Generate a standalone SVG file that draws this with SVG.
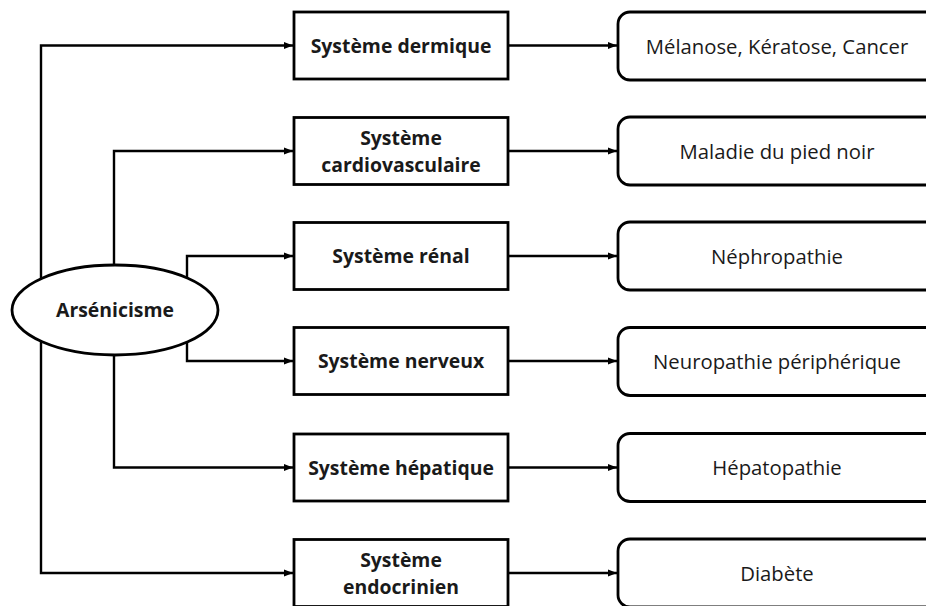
<svg xmlns="http://www.w3.org/2000/svg" width="926" height="606" viewBox="0 0 926 606">
<style>
.box{fill:#fff;stroke:#000;stroke-width:2.8}
.rbox{fill:#fff;stroke:#000;stroke-width:2.8}
.ell{fill:#fff;stroke:#000;stroke-width:2.8}
.conn{fill:none;stroke:#000;stroke-width:2.4}
.b{font-family:"Open Sans","Liberation Sans",sans-serif;font-weight:bold;font-size:19.4px;fill:#1a1a1a;text-anchor:middle}
.r{font-family:"Open Sans","Liberation Sans",sans-serif;font-size:20.3px;fill:#1a1a1a;text-anchor:middle}
</style>
<defs>
<marker id="ah" markerUnits="userSpaceOnUse" markerWidth="10" markerHeight="10" viewBox="0 0 10 10" refX="9" refY="5" orient="auto">
<path d="M0,1.5 L9,5 L0,8.5 Z" fill="#000"/>
</marker>
</defs>
<rect width="926" height="606" fill="#fff"/>
<g id="connectors">
<path class="conn" d="M41,300 V45.5 H293" marker-end="url(#ah)"/>
<path class="conn" d="M41,320 V573 H293" marker-end="url(#ah)"/>
<path class="conn" d="M114,300 V151 H293" marker-end="url(#ah)"/>
<path class="conn" d="M114,320 V467.5 H293" marker-end="url(#ah)"/>
<path class="conn" d="M187,300 V256 H293" marker-end="url(#ah)"/>
<path class="conn" d="M187,320 V361 H293" marker-end="url(#ah)"/>
<path class="conn" d="M508,45.5 H617" marker-end="url(#ah)"/>
<path class="conn" d="M508,151 H617" marker-end="url(#ah)"/>
<path class="conn" d="M508,256 H617" marker-end="url(#ah)"/>
<path class="conn" d="M508,361 H617" marker-end="url(#ah)"/>
<path class="conn" d="M508,467.5 H617" marker-end="url(#ah)"/>
<path class="conn" d="M508,573 H617" marker-end="url(#ah)"/>
</g>
<g id="arsenicisme">
<ellipse class="ell" cx="115" cy="310" rx="103" ry="45"/>
<text class="b" x="115" y="317">Arsénicisme</text>
</g>
<g id="dermique">
<rect class="box" x="294" y="12" width="214" height="67"/>
<text class="b" x="401" y="53">Système dermique</text>
</g>
<g id="cardio">
<rect class="box" x="294" y="117.5" width="214" height="67"/>
<text class="b" x="401" y="145">Système</text>
<text class="b" x="401" y="172">cardiovasculaire</text>
</g>
<g id="renal">
<rect class="box" x="294" y="222.5" width="214" height="67"/>
<text class="b" x="401" y="263">Système rénal</text>
</g>
<g id="nerveux">
<rect class="box" x="294" y="327.5" width="214" height="67"/>
<text class="b" x="401" y="368">Système nerveux</text>
</g>
<g id="hepatique">
<rect class="box" x="294" y="434" width="214" height="67"/>
<text class="b" x="401" y="474.5">Système hépatique</text>
</g>
<g id="endocrinien">
<rect class="box" x="294" y="539.5" width="214" height="67"/>
<text class="b" x="401" y="567">Système</text>
<text class="b" x="401" y="594">endocrinien</text>
</g>
<g id="melanose">
<rect class="rbox" x="618" y="12" width="330" height="68" rx="12"/>
<text class="r" x="777" y="53.5">Mélanose, Kératose, Cancer</text>
</g>
<g id="pied-noir">
<rect class="rbox" x="618" y="117" width="330" height="68" rx="12"/>
<text class="r" x="777" y="159">Maladie du pied noir</text>
</g>
<g id="nephropathie">
<rect class="rbox" x="618" y="222" width="330" height="68" rx="12"/>
<text class="r" x="777" y="264">Néphropathie</text>
</g>
<g id="neuropathie">
<rect class="rbox" x="618" y="327.5" width="330" height="68" rx="12"/>
<text class="r" x="777" y="369">Neuropathie périphérique</text>
</g>
<g id="hepatopathie">
<rect class="rbox" x="618" y="433.5" width="330" height="68" rx="12"/>
<text class="r" x="777" y="475">Hépatopathie</text>
</g>
<g id="diabete">
<rect class="rbox" x="618" y="539" width="330" height="68" rx="12"/>
<text class="r" x="777" y="581">Diabète</text>
</g>
</svg>
